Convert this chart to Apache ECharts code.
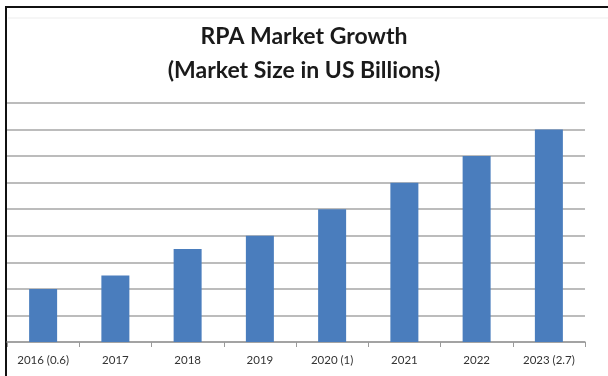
<!DOCTYPE html>
<html>
<head>
<meta charset="utf-8">
<script src="https://cdn.jsdelivr.net/npm/echarts@6/dist/echarts.min.js"></script>
<style>
  html, body { margin: 0; padding: 0; background: #fff; }
  #chart { width: 608px; height: 376px; }
</style>
</head>
<body>
<div id="chart"></div>
<script>
// Category labels along the x axis
const categories = ['2016 (0.6)', '2017', '2018', '2019', '2020 (1)', '2021', '2022', '2023 (2.7)'];
// Market size per year (US$ billions, scale of the value axis)
const marketSize = [0.6, 0.75, 1.05, 1.2, 1.5, 1.8, 2.1, 2.4];
// Value axis range
const axisMax = 2.7;
const axisStep = 0.3;

const chart = echarts.init(document.getElementById('chart'), null, { renderer: 'canvas' });

chart.setOption({
  animation: false,
  backgroundColor: '#ffffff',
  title: {
    text: 'RPA Market Growth\n(Market Size in US Billions)',
    left: 'center',
    top: 15,
    textStyle: {
      fontFamily: 'Lato',
      fontWeight: 'bold',
      fontSize: 23,
      lineHeight: 34,
      color: '#1a1a1a'
    }
  },
  grid: { left: 7, right: 23, top: 103, bottom: 34 },
  xAxis: {
    type: 'category',
    data: categories,
    axisLine: { lineStyle: { color: '#9a9a9a', width: 1.5 } },
    axisTick: { show: true, length: 5, lineStyle: { color: '#9a9a9a' } },
    axisLabel: {
      margin: 12,
      fontFamily: 'Lato',
      fontSize: 11.5,
      color: '#333333'
    }
  },
  yAxis: {
    type: 'value',
    min: 0,
    max: axisMax,
    interval: axisStep,
    axisLine: { show: false },
    axisTick: { show: false },
    axisLabel: { show: false },
    splitLine: { lineStyle: { color: '#a6a6a6', width: 1.5 } }
  },
  series: [{
    type: 'bar',
    data: marketSize,
    barWidth: 28,
    itemStyle: { color: '#4a7dbd' }
  }],
  graphic: [
    {
      type: 'line',
      shape: { x1: 8, y1: 18, x2: 608, y2: 18 },
      style: { stroke: '#ededed', lineWidth: 1 }
    },
    {
      type: 'rect',
      shape: { x: 6, y: 7, width: 620, height: 390 },
      style: { fill: 'none', stroke: '#111111', lineWidth: 2 }
    }
  ]
});
</script>
</body>
</html>
